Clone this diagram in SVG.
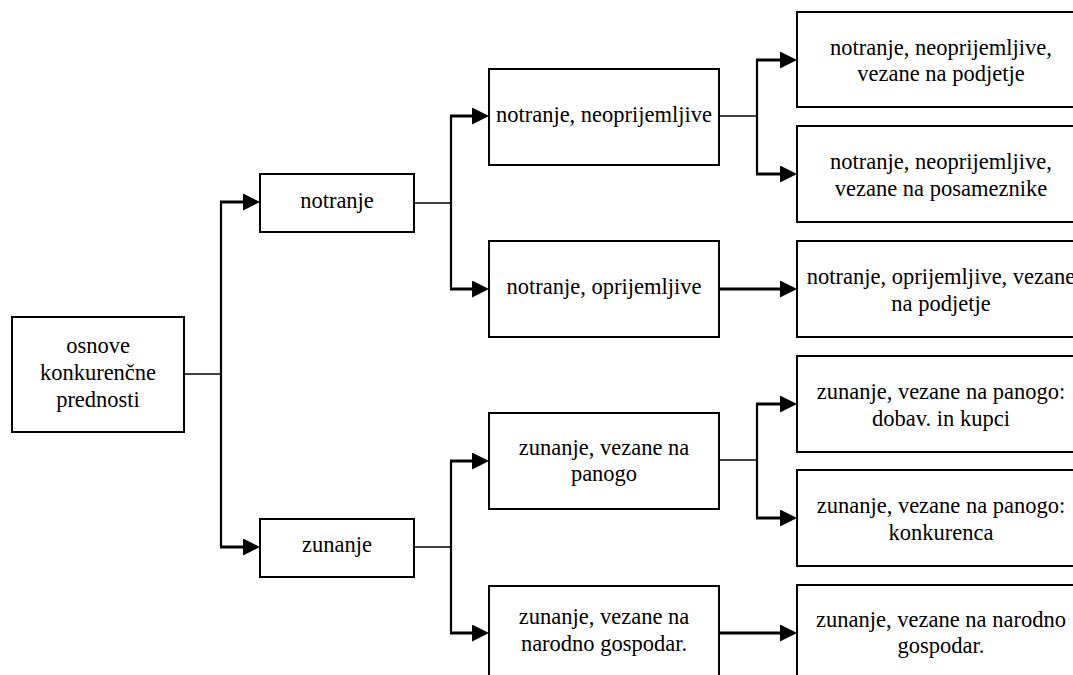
<svg xmlns="http://www.w3.org/2000/svg" width="1073" height="675" viewBox="0 0 1073 675">
<style>
.box{fill:#fff;stroke:#000;stroke-width:2}
.thin{fill:none;stroke:#000;stroke-width:1.7}
.vert{fill:none;stroke:#000;stroke-width:2.2}
.arr{fill:none;stroke:#000;stroke-width:3;marker-end:url(#ah)}
</style>
<defs>
<marker id="ah" markerUnits="userSpaceOnUse" markerWidth="17" markerHeight="17" viewBox="0 0 17 17" refX="9" refY="8.5" orient="auto">
<path d="M0,0 L17,8.5 L0,17 Z" fill="#000"/>
</marker>
</defs>
<rect width="1073" height="675" fill="#fff"/>
<g id="connectors">
<path class="thin" d="M184,374 H221"/>
<path class="vert" d="M221,202 V547"/>
<path class="arr" d="M220,202 H252"/>
<path class="arr" d="M220,547 H252"/>
<path class="thin" d="M414,203 H451"/>
<path class="vert" d="M451,116 V289"/>
<path class="arr" d="M450,116 H481"/>
<path class="arr" d="M450,289 H481"/>
<path class="thin" d="M414,547 H451"/>
<path class="vert" d="M451,461 V633"/>
<path class="arr" d="M450,461 H481"/>
<path class="arr" d="M450,633 H481"/>
<path class="thin" d="M719,116 H757"/>
<path class="vert" d="M757,60 V174"/>
<path class="arr" d="M756,60 H789"/>
<path class="arr" d="M756,174 H789"/>
<path class="arr" d="M719,289 H789"/>
<path class="thin" d="M719,460 H757"/>
<path class="vert" d="M757,404 V518"/>
<path class="arr" d="M756,404 H789"/>
<path class="arr" d="M756,518 H789"/>
<path class="arr" d="M719,633 H789"/>
</g>
<g font-family="'Liberation Serif', Tinos, 'Times New Roman', 'DejaVu Serif', serif" font-size="22.5" fill="#000" text-anchor="middle">
<g id="root">
<rect class="box" x="12" y="317" width="172" height="115"/>
<text x="98" y="353">osnove</text>
<text x="98" y="380">konkurenčne</text>
<text x="98" y="407">prednosti</text>
</g>
<g id="notranje">
<rect class="box" x="260" y="174" width="154" height="58"/>
<text x="337" y="208">notranje</text>
</g>
<g id="zunanje">
<rect class="box" x="260" y="519" width="154" height="58"/>
<text x="337" y="552">zunanje</text>
</g>
<g id="notranje-neoprijemljive">
<rect class="box" x="489" y="69" width="230" height="96"/>
<text x="604" y="122">notranje, neoprijemljive</text>
</g>
<g id="notranje-oprijemljive">
<rect class="box" x="489" y="241" width="230" height="96"/>
<text x="604" y="294">notranje, oprijemljive</text>
</g>
<g id="zunanje-panogo">
<rect class="box" x="489" y="413" width="230" height="96"/>
<text x="604" y="455">zunanje, vezane na</text>
<text x="604" y="481">panogo</text>
</g>
<g id="zunanje-narodno">
<rect class="box" x="489" y="586" width="230" height="96"/>
<text x="604" y="624">zunanje, vezane na</text>
<text x="604" y="651">narodno gospodar.</text>
</g>
<g id="r1">
<rect class="box" x="797" y="12" width="288" height="95"/>
<text x="941" y="54.5">notranje, neoprijemljive,</text>
<text x="941" y="81">vezane na podjetje</text>
</g>
<g id="r2">
<rect class="box" x="797" y="126" width="288" height="96"/>
<text x="941" y="169">notranje, neoprijemljive,</text>
<text x="941" y="195.5">vezane na posameznike</text>
</g>
<g id="r3">
<rect class="box" x="797" y="241" width="288" height="96"/>
<text x="941" y="284">notranje, oprijemljive, vezane</text>
<text x="941" y="310.5">na podjetje</text>
</g>
<g id="r4">
<rect class="box" x="797" y="356" width="288" height="96"/>
<text x="941" y="399">zunanje, vezane na panogo:</text>
<text x="941" y="425.5">dobav. in kupci</text>
</g>
<g id="r5">
<rect class="box" x="797" y="470" width="288" height="96"/>
<text x="941" y="513">zunanje, vezane na panogo:</text>
<text x="941" y="539.5">konkurenca</text>
</g>
<g id="r6">
<rect class="box" x="797" y="585" width="288" height="96"/>
<text x="941" y="627">zunanje, vezane na narodno</text>
<text x="941" y="653">gospodar.</text>
</g>
</g>
</svg>
